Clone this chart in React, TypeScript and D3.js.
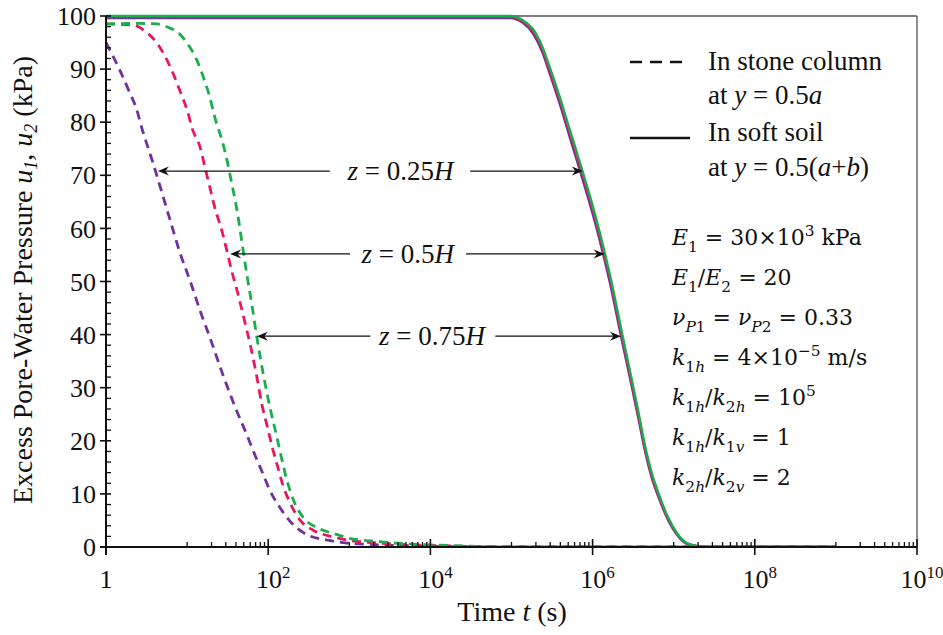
import React from "react";
import * as d3 from "d3";

// ---------- DATA ----------
const xMajorExps = [0, 2, 4, 6, 8, 10];
const xMinorExps = [1, 3, 5, 7, 9];
const xMinorMults = [1, 2, 3, 4, 5, 6, 7, 8, 9];
const yMajor = [0, 10, 20, 30, 40, 50, 60, 70, 80, 90, 100];
const yMinorStep = 2;

// stone column (dashed), log10(t) and u (kPa)
const colPurpleLogT = [0, 0.17, 0.28, 0.38, 0.44, 0.58, 0.79, 0.91, 1.04, 1.16, 1.28, 1.44, 1.57, 1.74, 1.84, 1.94, 2.02, 2.15, 2.29, 2.48, 2.73, 2.97, 3.3, 3.7, 4.0, 4.5, 5, 6, 9];
const colPurpleU = [95, 89.8, 86, 82.3, 79, 72.3, 61.6, 55.5, 50, 44.5, 39.5, 32.5, 27.2, 21, 17.2, 13.6, 10.7, 7.3, 4.5, 2.3, 1.3, 0.75, 0.45, 0.25, 0.15, 0.05, 0, 0, 0];

const colPinkLogT = [0, 0.33, 0.51, 0.58, 0.7, 0.81, 0.91, 1.0, 1.07, 1.16, 1.22, 1.28, 1.34, 1.43, 1.49, 1.55, 1.63, 1.71, 1.78, 1.86, 1.92, 1.99, 2.05, 2.11, 2.18, 2.27, 2.39, 2.55, 2.8, 2.98, 3.3, 3.7, 4.0, 4.5, 5, 9];
const colPinkU = [98.5, 98.3, 96.8, 95.8, 93.2, 89.8, 86, 82.3, 78.5, 75.3, 71.5, 67.8, 64, 59.5, 55.8, 52, 47.5, 42.5, 38, 32, 27, 22.6, 18.8, 15.5, 11.7, 8.3, 5.1, 3.2, 1.9, 1.3, 0.8, 0.45, 0.3, 0.1, 0, 0];

const colGreenLogT = [0, 0.4, 0.63, 0.79, 0.88, 1.0, 1.12, 1.2, 1.28, 1.34, 1.43, 1.49, 1.55, 1.62, 1.68, 1.74, 1.8, 1.86, 1.94, 2.02, 2.11, 2.17, 2.23, 2.31, 2.43, 2.61, 2.86, 2.98, 3.3, 3.7, 4.0, 4.5, 5, 9];
const colGreenU = [98.5, 98.6, 98.5, 97.7, 97, 94.9, 91.7, 88.5, 84.7, 81, 76.6, 73, 68.5, 63, 57, 51, 45.5, 39.5, 32.5, 26.4, 20.5, 16.4, 12.6, 8.9, 5.6, 3.6, 2.3, 1.7, 1.1, 0.6, 0.4, 0.15, 0, 0];

// soft soil (solid)
const soilLogT = [0, 4.98, 5.14, 5.27, 5.38, 5.47, 5.6, 5.72, 5.84, 5.93, 6.0, 6.15, 6.21, 6.36, 6.49, 6.57, 6.65, 6.73, 6.83, 6.93, 7.04, 7.16, 7.29, 7.4, 9];
const soilGreenU = [100, 100, 99.2, 97.4, 94.2, 90.4, 84.5, 78.5, 72.6, 68.0, 64.3, 55.4, 51.5, 40.5, 31, 25, 18.8, 13.9, 9.4, 5.6, 2.6, 0.75, 0.2, 0, 0];
const soilPinkU = [99.9, 99.9, 99.0, 97.1, 93.8, 89.9, 84.0, 77.9, 72.0, 67.4, 63.7, 54.8, 50.9, 39.9, 30.5, 24.5, 18.4, 13.5, 9.1, 5.4, 2.5, 0.7, 0.2, 0, 0];
const soilPurpleU = [99.6, 99.6, 98.7, 96.6, 93.2, 89.2, 83.2, 77.1, 71.1, 66.5, 62.8, 53.9, 50.0, 39.0, 29.7, 23.8, 17.8, 13.0, 8.7, 5.1, 2.3, 0.6, 0.15, 0, 0];

// annotations: label, u level, log10 t of left tip, left line end, text centre, right line start, right tip
const annLabels = ["0.25", "0.5", "0.75"];
const annU = [70.8, 55.2, 39.7];
const annLeftTip = [0.64, 1.53, 1.86];
const annLeftEnd = [2.76, 3.01, 3.26];
const annTextC = [3.63, 3.72, 4.02];
const annRightStart = [4.49, 4.44, 4.8];
const annRightTip = [5.88, 6.15, 6.35];

const PURPLE = "#7030a0";
const PINK = "#e8185d";
const GREEN = "#19ae4b";

type Seg = [string, string];
const eqLines: Seg[][] = [
  [["E", "i"], ["1", "sub"], [" = 30×10", "n"], ["3", "sup"], [" kPa", "n"]],
  [["E", "i"], ["1", "sub"], ["/", "n"], ["E", "i"], ["2", "sub"], [" = 20", "n"]],
  [["ν", "i"], ["P", "subi"], ["1", "sub"], [" = ", "n"], ["ν", "i"], ["P", "subi"], ["2", "sub"], [" = 0.33", "n"]],
  [["k", "i"], ["1", "sub"], ["h", "subi"], [" = 4×10", "n"], ["−5", "sup"], [" m/s", "n"]],
  [["k", "i"], ["1", "sub"], ["h", "subi"], ["/", "n"], ["k", "i"], ["2", "sub"], ["h", "subi"], [" = 10", "n"], ["5", "sup"]],
  [["k", "i"], ["1", "sub"], ["h", "subi"], ["/", "n"], ["k", "i"], ["1", "sub"], ["v", "subi"], [" = 1", "n"]],
  [["k", "i"], ["2", "sub"], ["h", "subi"], ["/", "n"], ["k", "i"], ["2", "sub"], ["v", "subi"], [" = 2", "n"]],
];

// ---------- LAYOUT ----------
const W = 943;
const H = 635;
const L = 106, R = 917, T = 16, B = 547;
const SERIF = "'Liberation Serif', 'Times New Roman', serif";
const MATH = "'DejaVu Serif', serif";

const x = d3.scaleLog().domain([1, 1e10]).range([L, R]);
const y = d3.scaleLinear().domain([0, 100]).range([B, T]);

const line = d3
  .line<[number, number]>()
  .x((d) => x(Math.pow(10, d[0])))
  .y((d) => y(d[1]))
  .curve(d3.curveMonotoneX);

const zip = (a: number[], b: number[]) => a.map((v, i) => [v, b[i]] as [number, number]);

function Rich({ xx, yy, segs, size, family, anchor = "start" }: { xx: number; yy: number; segs: Seg[]; size: number; family: string; anchor?: string }) {
  let off = 0;
  return (
    <text x={xx} y={yy} fontFamily={family} fontSize={size} textAnchor={anchor} style={{ whiteSpace: "pre" }} fill="#111">
      {segs.map(([t, st], i) => {
        const isSub = st === "sub" || st === "subi";
        const isSup = st === "sup";
        const target = isSub ? size * 0.3 : isSup ? -size * 0.42 : 0;
        const dy = target - off;
        off = target;
        return (
          <tspan key={i} dy={dy} fontSize={isSub || isSup ? size * 0.7 : size} fontStyle={st === "i" || st === "subi" ? "italic" : "normal"}>
            {t}
          </tspan>
        );
      })}
    </text>
  );
}

function Arrow({ x1, x2, yy }: { x1: number; x2: number; yy: number }) {
  const dir = x2 > x1 ? 1 : -1;
  const len = 11, half = 4.5, notch = 3.5;
  const p = `M${x2},${yy} L${x2 - dir * len},${yy - half} L${x2 - dir * (len - notch)},${yy} L${x2 - dir * len},${yy + half} Z`;
  return (
    <g>
      <line x1={x1} x2={x2 - dir * 4} y1={yy} y2={yy} stroke="#111" strokeWidth={1.3} />
      <path d={p} fill="#111" />
    </g>
  );
}

export default function App() {
  const yMinor = d3.range(0, 100 + 0.001, yMinorStep).filter((v) => v % 10 !== 0);
  const xMinor: number[] = [];
  xMinorExps.forEach((e) => xMinorMults.forEach((m) => xMinor.push(m * Math.pow(10, e))));

  const dashed = [
    { d: zip(colPurpleLogT, colPurpleU), c: PURPLE },
    { d: zip(colPinkLogT, colPinkU), c: PINK },
    { d: zip(colGreenLogT, colGreenU), c: GREEN },
  ];
  const solid = [
    { d: zip(soilLogT, soilPurpleU), c: PURPLE },
    { d: zip(soilLogT, soilPinkU), c: PINK },
    { d: zip(soilLogT, soilGreenU), c: GREEN },
  ];

  const px = (e: number) => x(Math.pow(10, e));

  return (
    <svg width={W} height={H} style={{ position: "absolute", left: 0, top: 0, background: "#fff" }}>
      <defs>
        <clipPath id="plot">
          <rect x={L} y={T - 3} width={R - L} height={B - T + 3} />
        </clipPath>
      </defs>
      <rect x={0} y={0} width={W} height={H} fill="#fff" />

      {/* frame */}
      <line x1={L} x2={R} y1={T} y2={T} stroke="#555" strokeWidth={1.3} />
      <line x1={R} x2={R} y1={T} y2={B} stroke="#555" strokeWidth={1.3} />

      {/* curves */}
      <g clipPath="url(#plot)" fill="none">
        {dashed.map((s, i) => (
          <path key={"d" + i} d={line(s.d) || ""} stroke={s.c} strokeWidth={2.8} strokeDasharray="9 6" />
        ))}
        {solid.map((s, i) => (
          <path key={"s" + i} d={line(s.d) || ""} stroke={s.c} strokeWidth={2.4} />
        ))}
      </g>

      {/* axes */}
      <line x1={L} x2={L} y1={T} y2={B + 8} stroke="#111" strokeWidth={2} />
      <line x1={L - 6} x2={R} y1={B} y2={B} stroke="#111" strokeWidth={2} />
      {yMajor.map((v) => (
        <line key={"ym" + v} x1={L - 6} x2={L + 5} y1={y(v)} y2={y(v)} stroke="#111" strokeWidth={1.6} />
      ))}
      {yMinor.map((v) => (
        <line key={"yn" + v} x1={L} x2={L + 5} y1={y(v)} y2={y(v)} stroke="#111" strokeWidth={1.3} />
      ))}
      {xMajorExps.map((e) => (
        <line key={"xm" + e} x1={px(e)} x2={px(e)} y1={B - 8} y2={B + 8} stroke="#111" strokeWidth={1.6} />
      ))}
      {xMinor.map((v, i) => (
        <line key={"xn" + i} x1={x(v)} x2={x(v)} y1={B - 5} y2={B} stroke="#111" strokeWidth={1.3} />
      ))}

      {/* tick labels */}
      {yMajor.map((v) => (
        <text key={"yl" + v} x={L - 10} y={y(v)} dy="0.35em" textAnchor="end" fontFamily={SERIF} fontSize={26} fill="#111">
          {v}
        </text>
      ))}
      {xMajorExps.map((e) => (
        <text key={"xl" + e} x={px(e) + (e === 0 ? 0 : 5)} y={588} textAnchor="middle" fontFamily={SERIF} fontSize={26} fill="#111">
          {e === 0 ? "1" : "10"}
          {e !== 0 && (
            <tspan dy={-10} fontSize={17}>
              {e}
            </tspan>
          )}
        </text>
      ))}

      {/* axis titles */}
      <text x={512} y={621} textAnchor="middle" fontFamily={SERIF} fontSize={28} fill="#111" style={{ whiteSpace: "pre" }}>
        <tspan>Time </tspan>
        <tspan fontStyle="italic">t</tspan>
        <tspan> (s)</tspan>
      </text>
      <text transform="translate(32,280) rotate(-90)" textAnchor="middle" fontFamily={SERIF} fontSize={28} fill="#111" style={{ whiteSpace: "pre" }}>
        <tspan>Excess Pore-Water Pressure </tspan>
        <tspan fontStyle="italic">u</tspan>
        <tspan fontStyle="italic" fontSize={18} dy={5}>1</tspan>
        <tspan dy={-5}>, </tspan>
        <tspan fontStyle="italic">u</tspan>
        <tspan fontStyle="italic" fontSize={18} dy={5}>2</tspan>
        <tspan dy={-5}> (kPa)</tspan>
      </text>

      {/* annotations */}
      {annLabels.map((lab, i) => {
        const yy = y(annU[i]);
        return (
          <g key={"a" + i}>
            <Arrow x1={px(annLeftEnd[i])} x2={px(annLeftTip[i])} yy={yy} />
            <Arrow x1={px(annRightStart[i])} x2={px(annRightTip[i])} yy={yy} />
            <text x={px(annTextC[i])} y={yy} dy="0.33em" textAnchor="middle" fontFamily={SERIF} fontSize={27} fill="#111" style={{ whiteSpace: "pre" }}>
              <tspan fontStyle="italic">z</tspan>
              <tspan>{" = " + lab}</tspan>
              <tspan fontStyle="italic">H</tspan>
            </text>
          </g>
        );
      })}

      {/* legend */}
      <line x1={630} x2={684} y1={62} y2={62} stroke="#111" strokeWidth={2.6} strokeDasharray="12 8" />
      <line x1={630} x2={690} y1={138} y2={138} stroke="#111" strokeWidth={2.6} />
      <text x={708} y={70} fontFamily={SERIF} fontSize={27} fill="#111">In stone column</text>
      <text x={708} y={104} fontFamily={SERIF} fontSize={27} fill="#111" style={{ whiteSpace: "pre" }}>
        <tspan>at </tspan>
        <tspan fontStyle="italic">y</tspan>
        <tspan> = 0.5</tspan>
        <tspan fontStyle="italic">a</tspan>
      </text>
      <text x={708} y={141} fontFamily={SERIF} fontSize={27} fill="#111">In soft soil</text>
      <text x={708} y={176} fontFamily={SERIF} fontSize={27} fill="#111" style={{ whiteSpace: "pre" }}>
        <tspan>at </tspan>
        <tspan fontStyle="italic">y</tspan>
        <tspan> = 0.5(</tspan>
        <tspan fontStyle="italic">a</tspan>
        <tspan>+</tspan>
        <tspan fontStyle="italic">b</tspan>
        <tspan>)</tspan>
      </text>

      {/* parameters */}
      {eqLines.map((segs, i) => (
        <Rich key={"eq" + i} xx={672} yy={245 + i * 40} segs={segs} size={22} family={MATH} />
      ))}
    </svg>
  );
}
